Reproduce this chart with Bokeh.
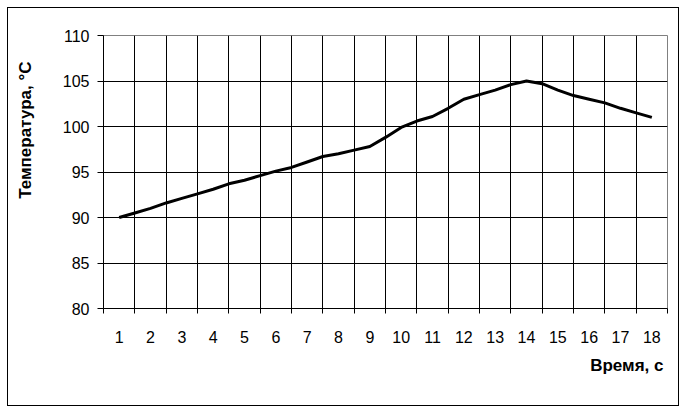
from bokeh.plotting import figure
from bokeh.models import Range1d, FixedTicker, Title
from bokeh.embed import file_html
from bokeh.resources import INLINE

# Data (time in s, temperature in °C)
time_s = [1, 1.5, 2, 2.5, 3, 3.5, 4, 4.5, 5, 5.5, 6, 6.5, 7, 7.5, 8, 8.5, 9, 9.5,
          10, 10.5, 11, 11.5, 12, 12.5, 13, 13.5, 14, 14.5, 15, 15.5, 16, 16.5, 17, 17.5, 18]
temperature = [90.0, 90.5, 91.0, 91.6, 92.1, 92.6, 93.1, 93.7, 94.1, 94.6, 95.1, 95.5,
               96.1, 96.7, 97.0, 97.4, 97.8, 98.8, 99.9, 100.6, 101.1, 102.0, 103.0, 103.5,
               104.0, 104.6, 105.0, 104.7, 104.0, 103.4, 103.0, 102.6, 102.0, 101.5, 101.0]
x_tick_labels = [str(i) for i in range(1, 19)]
y_ticks = [80, 85, 90, 95, 100, 105, 110]

FONT = "Liberation Sans"

p = figure(width=672, height=399, output_backend="svg", toolbar_location=None,
           x_range=Range1d(0.5, 18.5), y_range=Range1d(80, 110),
           min_border_left=95, min_border_right=13, min_border_top=27, min_border_bottom=99)
p.styles = {"border": "1px solid black", "margin-left": "7px", "margin-top": "7px"}
p.background_fill_color = "white"
p.border_fill_color = "white"
p.outline_line_color = "#808080"
p.outline_line_width = 1

cats = list(range(1, 19))
bounds = [c - 0.5 for c in cats] + [18.5]

# X axis: labels centred in bands, ticks at band boundaries
xa = p.xaxis[0]
xa.ticker = FixedTicker(ticks=cats, minor_ticks=bounds)
xa.major_label_overrides = {c: lbl for c, lbl in zip(cats, x_tick_labels)}
xa.major_tick_line_color = None
xa.major_tick_out = 0
xa.major_tick_in = 0
xa.minor_tick_line_color = "black"
xa.minor_tick_out = 5
xa.minor_tick_in = 0
xa.axis_line_color = "black"
xa.major_label_text_font = FONT
xa.major_label_text_font_size = "16px"
xa.major_label_text_color = "black"
xa.major_label_standoff = 17

ya = p.yaxis[0]
ya.ticker = FixedTicker(ticks=y_ticks, minor_ticks=[])
ya.major_tick_out = 6
ya.major_tick_in = 0
ya.major_tick_line_color = "black"
ya.axis_line_color = "black"
ya.major_label_text_font = FONT
ya.major_label_text_font_size = "16px"
ya.major_label_text_color = "black"
ya.major_label_standoff = 8

p.xgrid.ticker = FixedTicker(ticks=bounds[1:-1])
p.xgrid.grid_line_color = "black"
p.xgrid.grid_line_width = 1
p.ygrid.ticker = FixedTicker(ticks=y_ticks[1:-1])
p.ygrid.grid_line_color = "black"
p.ygrid.grid_line_width = 1

p.line(time_s, temperature, line_color="black", line_width=3, line_join="round")

ytitle = Title(text="Температура, °С\n ", align="right", offset=26, standoff=7,
               vertical_align="top",
               text_font=FONT, text_font_size="17px", text_font_style="bold",
               text_color="black")
xtitle = Title(text="Время, с", align="right", offset=4, standoff=17,
               text_font=FONT, text_font_size="17px", text_font_style="bold",
               text_color="black")
p.add_layout(ytitle, "left")
p.add_layout(xtitle, "below")

open("out.html", "w").write(file_html(p, INLINE))
